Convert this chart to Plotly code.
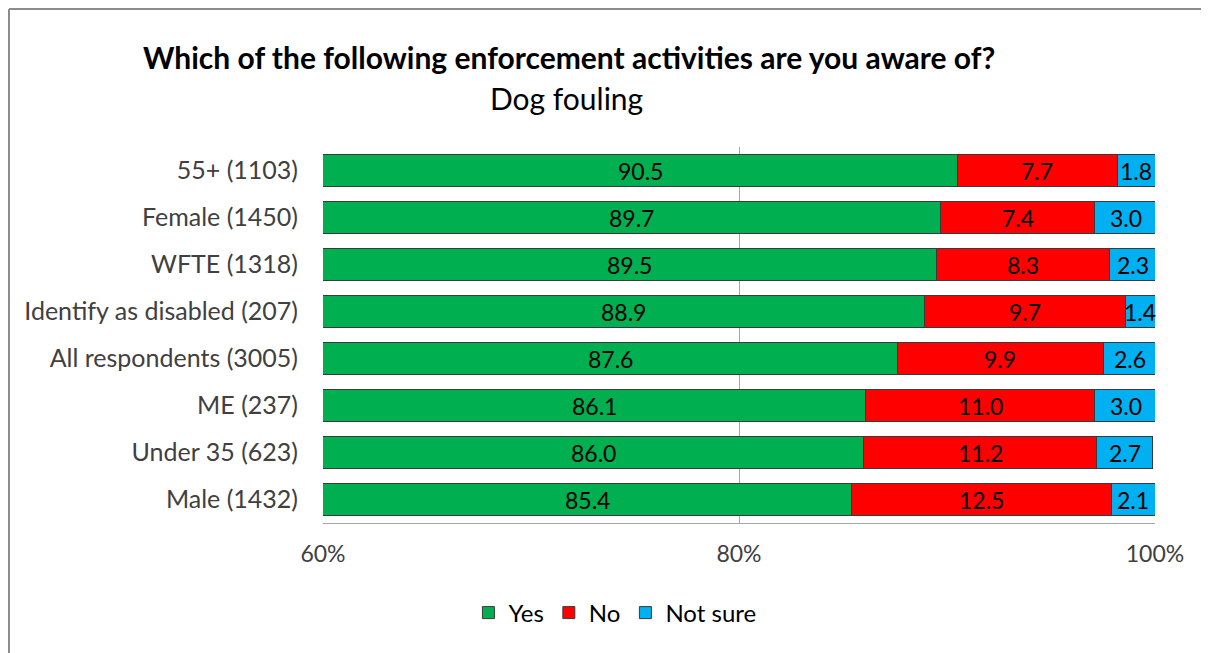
import plotly.graph_objects as go

# Survey groups, top to bottom as shown
groups = [
    "55+ (1103)",
    "Female (1450)",
    "WFTE (1318)",
    "Identify as disabled (207)",
    "All respondents (3005)",
    "ME (237)",
    "Under 35 (623)",
    "Male (1432)",
]
yes = [90.5, 89.7, 89.5, 88.9, 87.6, 86.1, 86.0, 85.4]
no = [7.7, 7.4, 8.3, 9.7, 9.9, 11.0, 11.2, 12.5]
not_sure = [1.8, 3.0, 2.3, 1.4, 2.6, 3.0, 2.7, 2.1]

x_min, x_max = 60, 100
tick_vals = [60, 80, 100]
tick_text = ["60%", "80%", "100%"]

FONT = "Lato"
edge = dict(color="#3a3a3a", width=1)

fig = go.Figure()
fig.add_trace(go.Bar(y=groups, x=yes, name="Yes", orientation="h",
                     marker=dict(color="#00B050", line=edge)))
fig.add_trace(go.Bar(y=groups, x=no, name="No", orientation="h",
                     marker=dict(color="#FF0000", line=edge)))
fig.add_trace(go.Bar(y=groups, x=not_sure, name="Not sure", orientation="h",
                     marker=dict(color="#00B0F0", line=edge)))

# value labels, centred on the visible part of each segment
annotations = []
for g, a, b, c in zip(groups, yes, no, not_sure):
    centres = [(max(x_min, 0) + a) / 2, a + b / 2, a + b + c / 2]
    for xc, v in zip(centres, [a, b, c]):
        annotations.append(dict(x=xc, y=g, xref="x", yref="y", text=f"{v:.1f}",
                                showarrow=False, xanchor="center",
                                font=dict(family=FONT, size=23, color="#000000")))

annotations.append(dict(
    x=0.296, y=1.239, xref="paper", yref="paper", showarrow=False,
    xanchor="center", yanchor="middle",
    text="<b>Which of the following enforcement activities are you aware of?</b>",
    font=dict(family=FONT, size=30, color="#000000")))
annotations.append(dict(
    x=0.293, y=1.13, xref="paper", yref="paper", showarrow=False,
    xanchor="center", yanchor="middle",
    text="Dog fouling", font=dict(family=FONT, size=30, color="#000000")))

# chart frame: only the top and left edges are visible in the source
frame = dict(color="#8c8c8c", width=2)
shapes = [
    dict(type="line", xref="paper", yref="paper", x0=-0.3774, x1=1.2,
         y0=1.367, y1=1.367, line=frame),
    dict(type="line", xref="paper", yref="paper", x0=-0.3774, x1=-0.3774,
         y0=-0.5, y1=1.367, line=frame),
]

fig.update_layout(
    barmode="stack",
    bargap=0.33,
    width=1209, height=653,
    margin=dict(l=315, r=62, t=139, b=138),
    paper_bgcolor="white",
    plot_bgcolor="white",
    font=dict(family=FONT, size=25, color="#404040"),
    annotations=annotations,
    legend=dict(orientation="h", xref="container", yref="container",
                x=0.502, y=0.0735, xanchor="center", yanchor="middle",
                font=dict(family=FONT, size=24, color="#000000"),
                traceorder="normal", itemwidth=30),
    shapes=shapes,
)

fig.update_xaxes(range=[x_min, x_max], tickvals=tick_vals, ticktext=tick_text,
                 showgrid=True, gridcolor="#a6a6a6", gridwidth=1,
                 showline=True, linecolor="#a6a6a6", linewidth=1,
                 tickfont=dict(size=23),
                 ticks="", ticklabelstandoff=10, zeroline=False, fixedrange=True)
fig.update_yaxes(autorange="reversed", showgrid=False, ticks="",
                 ticklabelstandoff=24, fixedrange=True)

fig.write_html("out.html")
